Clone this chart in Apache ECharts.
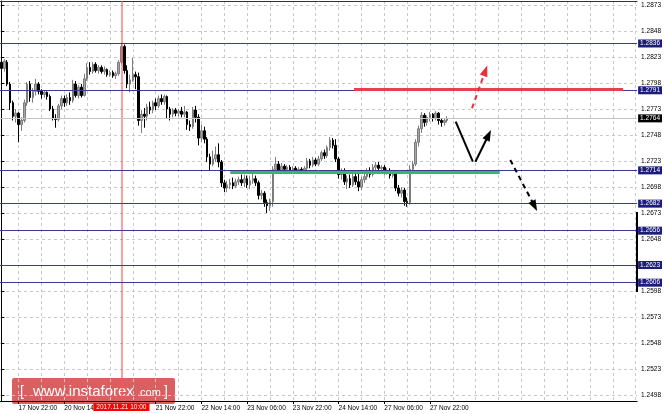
<!DOCTYPE html>
<html><head><meta charset="utf-8">
<script src="https://cdn.jsdelivr.net/npm/echarts@6/dist/echarts.min.js"></script>
<style>html,body{margin:0;padding:0;background:#fff}#c{width:664px;height:414px}</style>
</head><body><div id="c"></div>
<script>
// ---- data (H1 bars, 17 Nov 16:00 .. 28 Nov 04:00) ----
const opens = [
1.2818,1.2812,1.2818,1.2797,1.2779,1.2766,1.2769,1.2758,1.2762,1.2779,
1.2797,1.2784,1.2790,1.2797,1.2790,1.2787,1.2789,1.2785,1.2773,1.2764,
1.2763,1.2776,1.2783,1.2779,1.2784,1.2781,1.2797,1.2786,1.2794,1.2786,
1.2802,1.2813,1.2809,1.2816,1.2810,1.2813,1.2809,1.2811,1.2806,1.2808,
1.2805,1.2807,1.2818,1.2833,1.2810,1.2797,1.2801,1.2806,1.2804,1.2762,
1.2768,1.2766,1.2775,1.2772,1.2779,1.2776,1.2783,1.2780,1.2785,1.2773,
1.2768,1.2772,1.2769,1.2771,1.2768,1.2770,1.2758,1.2756,1.2772,1.2765,
1.2745,1.2752,1.2744,1.2727,1.2720,1.2725,1.2729,1.2722,1.2702,1.2697,
1.2700,1.2702,1.2699,1.2703,1.2705,1.2702,1.2706,1.2700,1.2704,1.2706,
1.2702,1.2690,1.2692,1.2683,1.2680,1.2684,1.2715,1.2720,1.2714,1.2718,
1.2715,1.2717,1.2714,1.2716,1.2713,1.2715,1.2714,1.2716,1.2723,1.2719,
1.2724,1.2720,1.2725,1.2731,1.2728,1.2736,1.2743,1.2738,1.2725,1.2710,
1.2713,1.2703,1.2706,1.2700,1.2708,1.2703,1.2698,1.2705,1.2708,1.2713,
1.2710,1.2717,1.2719,1.2716,1.2717,1.2712,1.2714,1.2709,1.2711,1.2697,
1.2692,1.2695,1.2684,1.2683,1.2715,1.2720,1.2741,1.2754,1.2767,1.2760,
1.2765,1.2768,1.2764,1.2769,1.2762,1.2760,1.2762];
const closes = [
1.2812,1.2819,1.2797,1.2779,1.2766,1.2769,1.2758,1.2762,1.2779,1.2797,
1.2784,1.2790,1.2797,1.2790,1.2787,1.2789,1.2785,1.2773,1.2764,1.2763,
1.2776,1.2783,1.2779,1.2784,1.2781,1.2797,1.2786,1.2794,1.2786,1.2802,
1.2813,1.2809,1.2816,1.2810,1.2813,1.2809,1.2811,1.2806,1.2808,1.2805,
1.2807,1.2818,1.2833,1.2810,1.2797,1.2801,1.2806,1.2804,1.2762,1.2768,
1.2766,1.2775,1.2772,1.2779,1.2776,1.2783,1.2780,1.2785,1.2773,1.2768,
1.2772,1.2769,1.2771,1.2768,1.2770,1.2758,1.2756,1.2772,1.2765,1.2745,
1.2752,1.2744,1.2727,1.2720,1.2725,1.2729,1.2722,1.2702,1.2697,1.2700,
1.2702,1.2699,1.2703,1.2705,1.2702,1.2706,1.2700,1.2704,1.2706,1.2702,
1.2690,1.2692,1.2683,1.2680,1.2684,1.2715,1.2720,1.2714,1.2718,1.2715,
1.2717,1.2714,1.2716,1.2713,1.2715,1.2714,1.2716,1.2723,1.2719,1.2724,
1.2720,1.2725,1.2731,1.2728,1.2736,1.2743,1.2738,1.2725,1.2710,1.2713,
1.2703,1.2706,1.2700,1.2708,1.2703,1.2698,1.2705,1.2708,1.2713,1.2710,
1.2717,1.2719,1.2716,1.2717,1.2712,1.2714,1.2709,1.2711,1.2697,1.2692,
1.2695,1.2684,1.2683,1.2715,1.2720,1.2741,1.2754,1.2767,1.2760,1.2765,
1.2768,1.2764,1.2769,1.2762,1.2760,1.2762,1.2764];
const lows = [
1.2810,1.2809,1.2795,1.2772,1.2762,1.2760,1.2741,1.2752,1.2760,1.2776,
1.2780,1.2779,1.2786,1.2787,1.2783,1.2784,1.2782,1.2771,1.2762,1.2755,
1.2761,1.2773,1.2775,1.2776,1.2777,1.2779,1.2784,1.2783,1.2784,1.2785,
1.2800,1.2806,1.2807,1.2808,1.2807,1.2807,1.2806,1.2804,1.2804,1.2803,
1.2802,1.2805,1.2816,1.2807,1.2793,1.2789,1.2799,1.2792,1.2757,1.2750,
1.2755,1.2762,1.2768,1.2769,1.2772,1.2774,1.2777,1.2777,1.2764,1.2762,
1.2765,1.2766,1.2766,1.2765,1.2765,1.2753,1.2752,1.2754,1.2760,1.2738,
1.2741,1.2740,1.2722,1.2714,1.2718,1.2722,1.2717,1.2698,1.2693,1.2693,
1.2696,1.2696,1.2697,1.2700,1.2699,1.2698,1.2697,1.2696,1.2701,1.2699,
1.2686,1.2686,1.2679,1.2673,1.2675,1.2679,1.2712,1.2711,1.2712,1.2712,
1.2713,1.2712,1.2712,1.2711,1.2711,1.2712,1.2711,1.2714,1.2716,1.2717,
1.2718,1.2718,1.2723,1.2725,1.2726,1.2733,1.2735,1.2722,1.2706,1.2705,
1.2700,1.2696,1.2697,1.2698,1.2700,1.2694,1.2695,1.2702,1.2705,1.2707,
1.2708,1.2714,1.2714,1.2713,1.2710,1.2710,1.2706,1.2707,1.2694,1.2689,
1.2688,1.2680,1.2679,1.2681,1.2712,1.2718,1.2737,1.2750,1.2756,1.2757,
1.2761,1.2761,1.2762,1.2758,1.2756,1.2757,1.2760];
const highs = [
1.2822,1.2821,1.2820,1.2799,1.2781,1.2773,1.2770,1.2765,1.2782,1.2799,
1.2800,1.2793,1.2802,1.2799,1.2792,1.2791,1.2790,1.2787,1.2776,1.2768,
1.2778,1.2786,1.2786,1.2787,1.2789,1.2801,1.2800,1.2796,1.2797,1.2807,
1.2817,1.2818,1.2818,1.2818,1.2815,1.2815,1.2814,1.2812,1.2810,1.2810,
1.2809,1.2820,1.2836,1.2835,1.2815,1.2806,1.2822,1.2809,1.2808,1.2772,
1.2774,1.2778,1.2780,1.2781,1.2783,1.2786,1.2787,1.2787,1.2786,1.2775,
1.2774,1.2774,1.2773,1.2775,1.2776,1.2771,1.2762,1.2775,1.2776,1.2768,
1.2758,1.2756,1.2746,1.2730,1.2733,1.2737,1.2740,1.2724,1.2705,1.2704,
1.2706,1.2707,1.2706,1.2708,1.2710,1.2710,1.2709,1.2709,1.2711,1.2709,
1.2704,1.2695,1.2694,1.2686,1.2687,1.2718,1.2727,1.2723,1.2721,1.2720,
1.2719,1.2719,1.2718,1.2718,1.2717,1.2717,1.2718,1.2726,1.2725,1.2727,
1.2726,1.2728,1.2733,1.2734,1.2738,1.2746,1.2745,1.2744,1.2727,1.2716,
1.2716,1.2709,1.2710,1.2713,1.2712,1.2714,1.2708,1.2712,1.2716,1.2717,
1.2720,1.2722,1.2722,1.2719,1.2719,1.2716,1.2716,1.2714,1.2713,1.2700,
1.2698,1.2697,1.2688,1.2719,1.2723,1.2744,1.2757,1.2770,1.2769,1.2767,
1.2770,1.2769,1.2771,1.2770,1.2764,1.2764,1.2766];

const yTicks = [1.2498,1.2523,1.2548,1.2573,1.2598,1.2623,1.2648,1.2673,1.2698,1.2723,1.2748,1.2773,1.2798,1.2823,1.2848,1.2873];
const xTickLabels = ['17 Nov 22:00','20 Nov 14:00','21 Nov 22:00','22 Nov 14:00','23 Nov 06:00','23 Nov 22:00','24 Nov 14:00','27 Nov 06:00','27 Nov 22:00'];
const levels = [1.2836,1.2791,1.2714,1.2682,1.2656,1.2623,1.2606];
const currentPrice = 1.2764;
const markerCategory = '21 Nov 10:00';
const markerText = '2017.11.21 10:00';
// annotation segments in (slot index, price)
const redZone = [[123.4,1.27917],[217.6,1.27917]];
const greenZone = [[80.1,1.27126],[174.4,1.27126]];
const redArrow = [[164.7,1.27737],[169.4,1.28098]];
const blackV1 = [[159.0,1.27608],[165.0,1.27223]];
const blackV2 = [[165.9,1.27223],[170.5,1.27480]];
const blackDash = [[178.1,1.27240],[186.6,1.26797]];
const rangeBar = [1.2674,1.2597];

// ---- categories (hourly, skipping weekends) ----
const totalSlots = 223;
const months = ['Jan','Feb','Mar','Apr','May','Jun','Jul','Aug','Sep','Oct','Nov','Dec'];
const cats = [];
let t = Date.UTC(2017,10,17,16);
while (cats.length < totalSlots) {
  const d = new Date(t);
  const wd = d.getUTCDay();
  if (wd !== 0 && wd !== 6) {
    const hh = String(d.getUTCHours()).padStart(2,'0');
    cats.push(d.getUTCDate() + ' ' + months[d.getUTCMonth()] + ' ' + hh + ':00');
  }
  t += 3600000;
}
const gridIdx = [];
for (let i = -2; i < totalSlots; i += 8) gridIdx.push(i);
const candles = closes.map((c,i)=>[opens[i], c, lows[i], highs[i]]);
const markerIdx = cats.indexOf(markerCategory);

const yMin = 1.249223, yMax = 1.287685;
const font = 'Liberation Sans';
const showLabel = (idx, val) => xTickLabels.indexOf(val) >= 0;

const seg = (pts, style, arrow) => [
  {coord: pts[0], symbol:'none'},
  {coord: pts[1], symbol: arrow ? 'triangle' : 'none', symbolSize:[8,11], lineStyle: style, itemStyle:{color: style.color}}
];
const levelLabel = (bg) => ({show:true, position:'end', distance:1, formatter: p => Number(p.value).toFixed(4),
  color:'#fff', backgroundColor:bg, padding:[1,2,0,2], fontSize:6.5, fontFamily:font});

const mlData = [];
mlData.push({xAxis: markerIdx, lineStyle:{color:'rgba(255,80,80,0.55)', width:2, type:'solid'},
  label:{show:true, position:'start', distance:2, formatter: markerText, color:'#fff', backgroundColor:'#ff0000',
         padding:[1,3,0,3], fontSize:6.5, fontFamily:font}});
mlData.push({yAxis: currentPrice, lineStyle:{color:'#c4c4c4', width:1, type:'solid'}, label: levelLabel('#000')});
mlData.push([{coord: greenZone[0]}, {coord: greenZone[1], lineStyle:{color:'#3cb371', width:3, type:'solid'}}]);
levels.forEach(v => mlData.push({yAxis: v, lineStyle:{color:'#3a3a96', width:1, type:'solid'}, label: levelLabel('#1c1c7a')}));
mlData.push([{coord: redZone[0]}, {coord: redZone[1], lineStyle:{color:'#e8404c', width:3, type:'solid'}}]);
mlData.push(seg(redArrow, {color:'#e8303c', width:2, type:[5,4]}, true));
mlData.push(seg(blackV1, {color:'#000', width:2, type:'solid'}, false));
mlData.push(seg(blackV2, {color:'#000', width:2, type:'solid'}, true));
mlData.push(seg(blackDash, {color:'#000', width:2, type:[5,4]}, true));
mlData.push([{coord:[totalSlots-0.6, rangeBar[0]]}, {coord:[totalSlots-0.6, rangeBar[1]], lineStyle:{color:'#000', width:2, type:'solid'}}]);

const chart = echarts.init(document.getElementById('c'));
chart.setOption({
  animation:false,
  backgroundColor:'#fff',
  grid:{left:0, right:25, top:1, bottom:13},
  xAxis:[{
    type:'category', data:cats, boundaryGap:true, position:'bottom',
    axisLine:{show:true, onZero:false, lineStyle:{color:'#000', width:1}},
    axisTick:{show:true, alignWithLabel:true, interval:showLabel, length:3, lineStyle:{color:'#000'}},
    axisLabel:{show:true, interval:showLabel, align:'left', margin:4, fontSize:6.5, color:'#000', fontFamily:font},
    splitLine:{show:false}
  },{
    type:'value', min:-0.5, max:totalSlots-0.5, position:'top',
    axisLine:{show:true, onZero:false, lineStyle:{color:'#333', width:1}},
    axisTick:{show:false, customValues:gridIdx},
    axisLabel:{show:false, customValues:gridIdx},
    splitLine:{show:true, lineStyle:{color:'#c8c8c8', type:[3,3]}}
  }],
  yAxis:[{
    type:'value', position:'right', min:yMin, max:yMax,
    axisLine:{show:true, lineStyle:{color:'#000'}},
    axisTick:{show:true, length:3, customValues:yTicks, lineStyle:{color:'#000'}},
    axisLabel:{show:true, customValues:yTicks, formatter:v=>Number(v).toFixed(4), margin:4, fontSize:6.5, color:'#000', fontFamily:font},
    splitLine:{show:true, lineStyle:{color:'#c8c8c8', type:[3,3]}}
  }],
  series:[{
    type:'candlestick', xAxisIndex:0, yAxisIndex:0, data:candles, barWidth:2, silent:true,
    itemStyle:{color:'#a6a6a6', color0:'#000', borderColor:'#7c7c7c', borderColor0:'#000', borderWidth:1}
  },{
    type:'line', xAxisIndex:1, yAxisIndex:0, data:[], symbol:'none', silent:true, z:3,
    markLine:{silent:true, symbol:'none', precision:6, animation:false, label:{show:false}, data: mlData}
  }],
  graphic:[{
    type:'group', left:12, top:378, z:100, children:[
      {type:'rect', shape:{x:0, y:0, width:163, height:26, r:2}, style:{fill:'rgba(212,74,74,0.88)'}},
      {type:'text', x:8, y:21, style:{text:'[', fill:'#fff', font:'14px "Liberation Sans"', verticalAlign:'bottom'}},
      {type:'text', x:21, y:21, style:{text:'www.instaforex', fill:'#fff', font:'15px "Liberation Sans"', verticalAlign:'bottom'}},
      {type:'text', x:125, y:20, style:{text:'.com', fill:'#fff', font:'11px "Liberation Sans"', verticalAlign:'bottom'}},
      {type:'text', x:152, y:21, style:{text:']', fill:'#fff', font:'14px "Liberation Sans"', verticalAlign:'bottom'}}
    ]
  }]
});
</script></body></html>
